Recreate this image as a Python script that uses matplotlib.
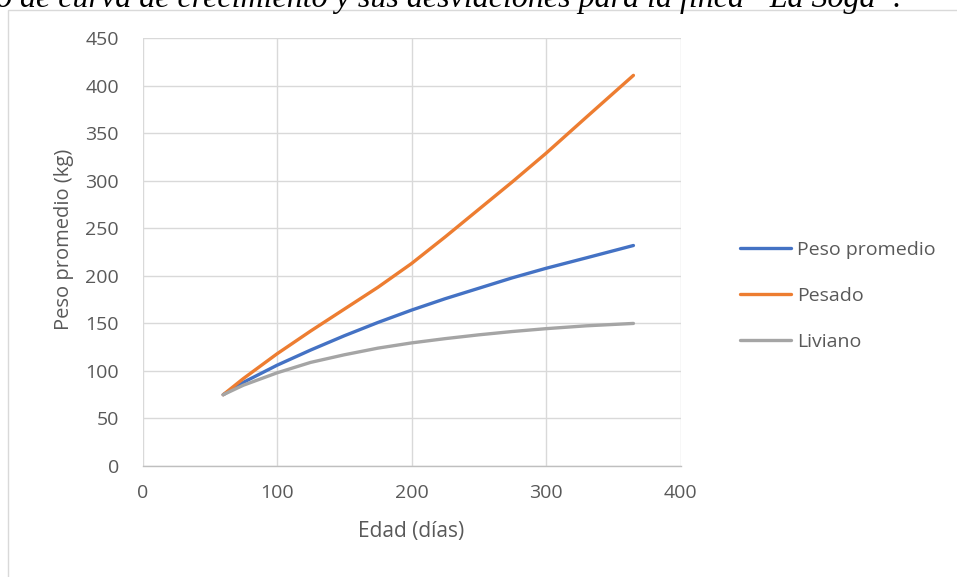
import matplotlib
matplotlib.use('Agg')
import matplotlib.pyplot as plt
from matplotlib.patches import Rectangle

plt.rcParams['font.family'] = ['Open Sans', 'DejaVu Sans']

# Edad (días) y peso (kg) de cada curva
dias = [60, 75, 100, 125, 150, 175, 200, 225, 250, 275, 300, 330, 365]
peso_promedio = [75, 88, 106, 122, 137, 151, 164, 176, 187, 198, 208, 219, 232]
pesado = [75, 92, 118, 142, 165, 188, 213, 241, 270, 299, 329, 367, 411]
liviano = [75, 85, 98, 109, 117, 124, 129.5, 134, 138, 141.5, 144.5, 147.5, 150]

series = [
    ('Peso promedio', peso_promedio, '#4472C4'),
    ('Pesado', pesado, '#ED7D31'),
    ('Liviano', liviano, '#A5A5A5'),
]

texto = '#595959'
rejilla = '#d9d9d9'

fig = plt.figure(figsize=(9.57, 5.77), dpi=100)

# marco del gráfico
fig.patches.append(Rectangle((8 / 957, -0.1), 1.2, 1 - 10 / 577 + 0.1,
                             transform=fig.transFigure, fill=False,
                             edgecolor=rejilla, linewidth=1.0))

# encabezado cortado en la parte superior
fig.text(-4 / 957, 1 - 7 / 577,
         'o de curva de crecimiento y sus desviaciones para la finca \u201cLa Soga\u201d.',
         family='Liberation Serif', style='italic', fontsize=23, color='black',
         ha='left', va='baseline')

ax = fig.add_axes([142.5 / 957, 1 - 466 / 577, 538 / 957, (466 - 38.3) / 577])

for nombre, valores, color in series:
    ax.plot(dias, valores, color=color, linewidth=2.4, label=nombre,
            solid_capstyle='round', solid_joinstyle='round')

ax.set_xlim(0, 400)
ax.set_ylim(0, 450)
ax.set_xticks(range(0, 401, 100))
ax.set_yticks(range(0, 451, 50))
ax.grid(True, color=rejilla, linewidth=1.0)
ax.set_axisbelow(True)
for lado in ['top', 'right', 'left']:
    ax.spines[lado].set_visible(False)
ax.spines['bottom'].set_color('#bfbfbf')
ax.spines['bottom'].set_linewidth(1.0)
ax.tick_params(length=0, labelsize=14, labelcolor=texto)
ax.tick_params(axis='y', pad=17)
ax.tick_params(axis='x', pad=13)

ax.set_xlabel('Edad (días)', fontsize=15, color=texto, labelpad=14)
ax.set_ylabel('Peso promedio (kg)', fontsize=14.5, color=texto)
ax.yaxis.set_label_coords(-0.128, 0.53)

ax.legend(loc='center left', bbox_to_anchor=(740 / 957, 1 - 296 / 577),
          bbox_transform=fig.transFigure, frameon=False, borderpad=0,
          borderaxespad=0, fontsize=14, labelcolor=texto, handlelength=2.6,
          handletextpad=0.35, labelspacing=1.45)

fig.savefig('out.png', dpi=100)
